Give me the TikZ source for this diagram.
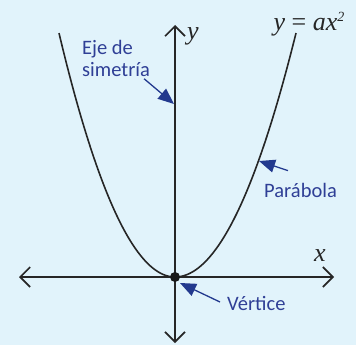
\documentclass[tikz,border=0pt]{standalone}
\usepackage{fontspec}
\setmainfont{Carlito}
\newfontfamily\mathserif{Liberation Serif}
\usetikzlibrary{arrows.meta}
\definecolor{bgblue}{HTML}{E1F3FB}
\definecolor{lblblue}{HTML}{2F3F96}
\definecolor{arrblue}{HTML}{22398E}
\tikzset{
  axis/.style={line width=1.6pt, black!85, -{Straight Barb[length=10pt,width=20pt,line width=1.6pt]}},
  curve/.style={line width=1.6pt, black!85},
  lbl/.style={text=lblblue, font=\fontsize{20.5}{23}\selectfont, inner sep=0pt, align=left},
  var/.style={font=\mathserif\itshape\fontsize{26}{28}\selectfont, inner sep=0pt, text=black!85},
  pointer/.style={line width=1.3pt, arrblue, -{Triangle[length=16pt,width=13pt]}},
}
\begin{document}
\begin{tikzpicture}[x=1pt,y=-1pt]
\fill[bgblue] (0,0) rectangle (356,345);
\useasboundingbox (0,0) rectangle (356,345);
\coordinate (O) at (175,277);
\coordinate (xl) at (19,277);
\coordinate (xr) at (334,277);
\coordinate (yb) at (175,343);
\coordinate (yt) at (175,25);
\draw[axis] (O) -- (xr);
\draw[axis] (O) -- (xl);
\draw[axis] (O) -- (yt);
\draw[axis] (O) -- (yb);
\draw[curve, domain=-116:0, samples=60] plot ({175+\x},{277-0.01813*\x*\x});
\draw[curve, domain=0:121, samples=60] plot ({175+\x},{277-0.01667*\x*\x});
\fill[black!90] (O) circle (5);
\node[var] (ylab) at (193,36) {y};
\node[var] (xlab) at (320,256) {x};
\node[var, anchor=base east] (eq) at (345,31) {y {\normalfont\mathserif=} ax\textsuperscript{\fontsize{14}{14}\selectfont 2}};
\node[lbl, anchor=north west] (eje) at (82,40) {Eje de\\[-1pt]simetría};
\node[lbl, anchor=west] (par) at (264,190) {Parábola};
\node[lbl, anchor=west] (ver) at (227,303) {Vértice};
\coordinate (ejetip) at (174,104);
\coordinate (partip) at (259,161);
\coordinate (vertip) at (180,283);
\draw[pointer] (eje.south east) ++(-6,2) -- (ejetip);
\draw[pointer] (par.north west) ++(24,-12) -- (partip);
\draw[pointer] (ver.west) ++(-7,-1) -- (vertip);
\end{tikzpicture}
\end{document}
